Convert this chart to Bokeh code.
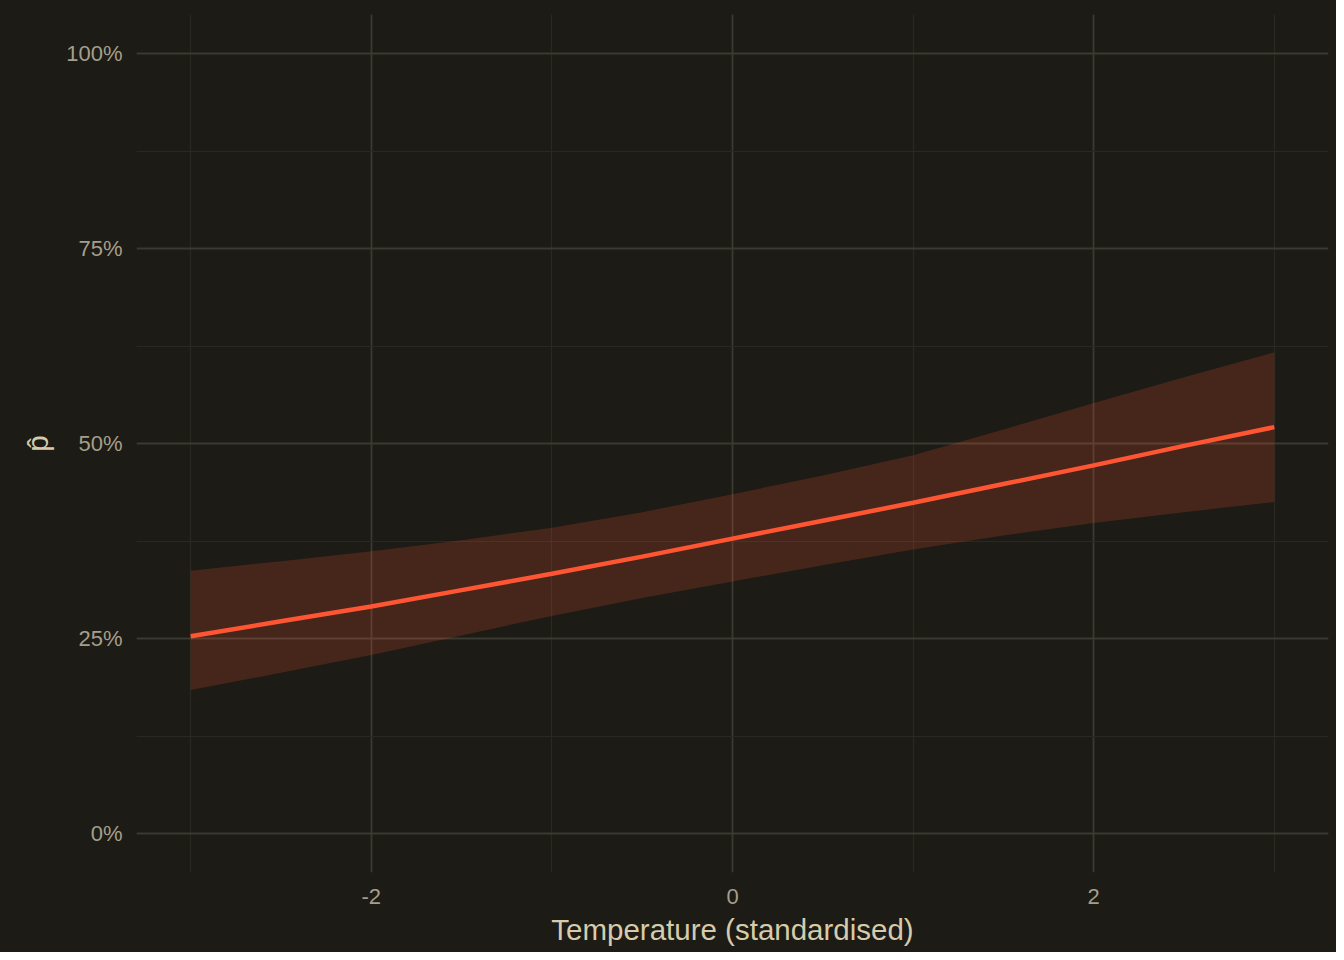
from bokeh.plotting import figure
from bokeh.models import FixedTicker, NumeralTickFormatter, ColumnDataSource, Range1d
from bokeh.embed import file_html
from bokeh.resources import INLINE

temperature = [-3.0, -2.5, -2.0, -1.5, -1.0, -0.5, 0.0, 0.5, 1.0, 1.5, 2.0, 2.5, 3.0]
p_hat = [0.253, 0.272, 0.291, 0.312, 0.333, 0.355, 0.378, 0.401, 0.424, 0.448, 0.472, 0.497, 0.521]
p_upper = [0.337, 0.349, 0.362, 0.376, 0.392, 0.412, 0.435, 0.459, 0.485, 0.518, 0.552, 0.585, 0.617]
p_lower = [0.184, 0.206, 0.229, 0.254, 0.279, 0.302, 0.323, 0.344, 0.364, 0.382, 0.398, 0.412, 0.425]
x_ticks = [-2, 0, 2]
x_minor = [-3, -1, 1, 3]
y_ticks = [0.0, 0.25, 0.5, 0.75, 1.0]
y_minor = [0.125, 0.375, 0.625, 0.875]

BG = "#1c1b15"
FONT = "Liberation Sans"

src = ColumnDataSource(dict(x=temperature, y=p_hat, lo=p_lower, hi=p_upper))

p = figure(width=1336, height=952, output_backend="svg", toolbar_location=None,
           x_range=Range1d(-3.3, 3.3), y_range=Range1d(-0.05, 1.05),
           min_border_left=136, min_border_right=8, min_border_top=14, min_border_bottom=80)
p.background_fill_color = None
p.border_fill_color = None
p.outline_line_color = None
p.styles = {"background-color": BG}

p.varea(x="x", y1="lo", y2="hi", source=src, fill_color="#ff5533", fill_alpha=0.19)
p.line(x="x", y="y", source=src, line_color="#ff5533", line_width=4.5)

p.xaxis.ticker = FixedTicker(ticks=x_ticks, minor_ticks=x_minor)
p.yaxis.ticker = FixedTicker(ticks=y_ticks, minor_ticks=y_minor)
p.xaxis.major_label_overrides = {-2: "-2", 0: "0", 2: "2"}
p.yaxis.formatter = NumeralTickFormatter(format="0%")

for ax in (p.xaxis, p.yaxis):
    ax.axis_line_color = None
    ax.major_tick_line_color = None
    ax.minor_tick_line_color = None
    ax.major_label_text_font = FONT
    ax.major_label_text_font_size = "22px"
    ax.major_label_text_color = "#a59f8a"
    ax.axis_label_text_font = FONT
    ax.axis_label_text_font_size = "29.5px"
    ax.axis_label_text_color = "#d6cbab"
    ax.axis_label_text_font_style = "normal"

p.xaxis.major_label_standoff = 10
p.yaxis.major_label_standoff = 8
p.xaxis.axis_label = "Temperature (standardised)"
p.yaxis.axis_label = "p\u0302"
p.xaxis.axis_label_standoff = 6
p.yaxis.axis_label_standoff = 9

for g in (p.xgrid, p.ygrid):
    g.grid_line_color = "#3b3a30"
    g.grid_line_width = 1.8
    g.minor_grid_line_color = "#2a2921"
    g.minor_grid_line_width = 1.2

html = file_html(p, INLINE)
html = html.replace("<body>", '<body style="background-color:%s;">' % BG, 1)
open("out.html", "w").write(html)
